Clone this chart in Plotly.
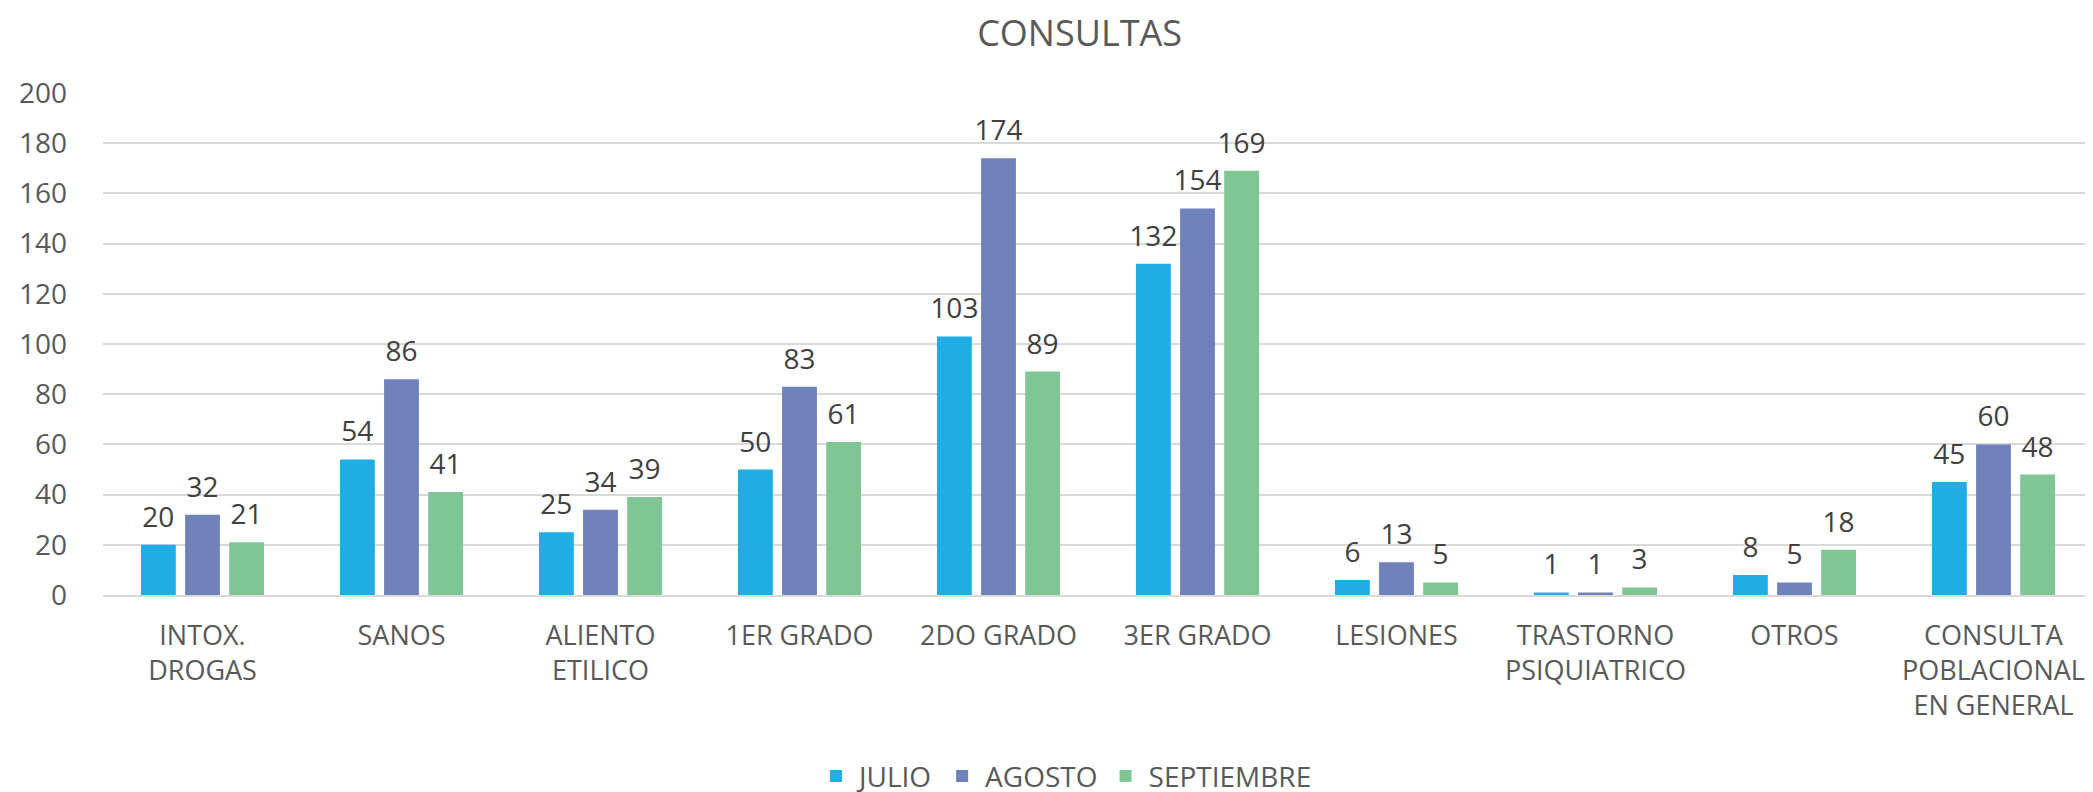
import plotly.graph_objects as go

categories = ["INTOX.<br>DROGAS", "SANOS", "ALIENTO<br>ETILICO", "1ER GRADO", "2DO GRADO",
              "3ER GRADO", "LESIONES", "TRASTORNO<br>PSIQUIATRICO", "OTROS",
              "CONSULTA<br>POBLACIONAL<br>EN GENERAL"]
julio = [20, 54, 25, 50, 103, 132, 6, 1, 8, 45]
agosto = [32, 86, 34, 83, 174, 154, 13, 1, 5, 60]
septiembre = [21, 41, 39, 61, 89, 169, 5, 3, 18, 48]
series_names = ["JULIO", "AGOSTO", "SEPTIEMBRE"]
colors = ["#1FADE4", "#6F81B9", "#80C594"]
y_ticks = [0, 20, 40, 60, 80, 100, 120, 140, 160, 180, 200]

FONT = "Open Sans"
GAP = 0.335
fig = go.Figure()
for name, vals, col in zip(series_names, [julio, agosto, septiembre], colors):
    fig.add_trace(go.Bar(
        name=name, x=categories, y=vals, offsetgroup=name,
        marker=dict(color=col, line=dict(width=0)),
        hoverinfo="x+y",
    ))
# value labels, aligned with the grouped bars
for name, vals in zip(series_names, [julio, agosto, septiembre]):
    fig.add_trace(go.Scatter(
        x=categories, y=vals, mode="markers+text", text=[str(v) for v in vals],
        textposition="top center", cliponaxis=False, showlegend=False,
        offsetgroup=name, hoverinfo="skip",
        marker=dict(size=16, color="rgba(0,0,0,0)"),
        textfont=dict(family=FONT, size=28, color="#404040"),
    ))

fig.update_layout(
    width=2093, height=792,
    paper_bgcolor="white", plot_bgcolor="white",
    margin=dict(l=95, r=8, t=85, b=205, autoexpand=False),
    barmode="group", bargap=GAP, bargroupgap=0.21,
    scattermode="group", scattergap=GAP,
    title=dict(text="CONSULTAS", x=0.512, xanchor="center", y=0.968, yanchor="middle",
               font=dict(family=FONT, size=36, color="#595959")),
    font=dict(family=FONT, color="#595959"),
    legend=dict(orientation="h", x=0.505, xanchor="center", xref="container",
                y=0.03, yanchor="middle", yref="container",
                font=dict(family=FONT, size=28, color="#595959"), itemwidth=36,
                traceorder="normal"),
    showlegend=True,
)
fig.update_yaxes(range=[0, 200], tickvals=y_ticks, showgrid=True, gridcolor="#D9D9D9",
                 gridwidth=1.5, zeroline=False, showline=False, automargin=False,
                 tickfont=dict(family=FONT, size=28, color="#595959"),
                 ticklabelstandoff=35)
fig.update_xaxes(showgrid=False, showline=True, linecolor="#D9D9D9", linewidth=1.5,
                 automargin=False,
                 tickangle=0, tickfont=dict(family=FONT, size=27, color="#595959"),
                 ticklabelstandoff=16)

fig.write_html("out.html")
